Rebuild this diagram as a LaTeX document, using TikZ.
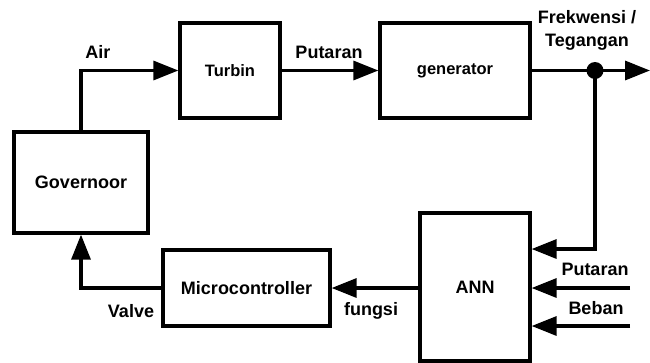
\documentclass[tikz,border=0pt]{standalone}
\usepackage{fontspec}
\setmainfont{Liberation Sans}
\usetikzlibrary{arrows.meta}

\tikzset{
  blok/.style={draw, line width=3.3pt, inner sep=0pt, align=center},
  lbl/.style={inner sep=0pt, font=\fontsize{18}{20}\selectfont\bfseries},
  arr/.style={-{Triangle[length=25pt,width=19pt]}},
}

\begin{document}
\begin{tikzpicture}[x=1pt,y=-1pt,line width=3.3pt,font=\fontsize{18}{20}\selectfont\bfseries]
\useasboundingbox (0,0) rectangle (650,362);
% blocks
\node[blok,minimum width=100pt,minimum height=95pt,font=\fontsize{16.5}{18}\selectfont\bfseries] (turb) at (230,70.5) {Turbin};
\node[blok,minimum width=150pt,minimum height=95pt,font=\fontsize{16.5}{18}\selectfont\bfseries] (gen) at (455,70.5) {generator};
\node[blok,minimum width=134pt,minimum height=101pt] (gov) at (81,182.5) {Governoor};
\node[blok,minimum width=167pt,minimum height=76pt] (mc) at (246.5,288) {Microcontroller};
\node[blok,minimum width=110pt,minimum height=148pt] (ann) at (475,287) {ANN};
% points
\coordinate (j) at (595,70.5);
\coordinate (out) at (650,70.5);
\coordinate (pin) at (630,288);
\coordinate (bin) at (630,326);
% connectors
\draw[arr] (gov.north) |- (turb.west);
\draw[arr] (turb.east) -- (gen.west);
\draw (gen.east) -- (j);
\draw[arr] (j) -- (out);
\fill (j) circle (8.5pt);
\draw[arr] (j) |- ([yshift=38pt]ann.east);
\draw[arr] (pin) -- (ann.east |- pin);
\draw[arr] (bin) -- (ann.east |- bin);
\draw[arr] (ann.west |- mc.east) -- (mc.east);
\draw[arr] (mc.west) -| (gov.south);
% labels
\node[lbl] (air) at (98,52) {Air};
\node[lbl] (put1) at (329,52) {Putaran};
\node[lbl] (frek) at (587,17) {Frekwensi /};
\node[lbl] (teg) at (587,42) {Tegangan};
\node[lbl] (valve) at (131,311) {Valve};
\node[lbl] (fungsi) at (371,311) {fungsi};
\node[lbl] (put2) at (595,269) {Putaran};
\node[lbl] (beban) at (596,308) {Beban};
\end{tikzpicture}
\end{document}
